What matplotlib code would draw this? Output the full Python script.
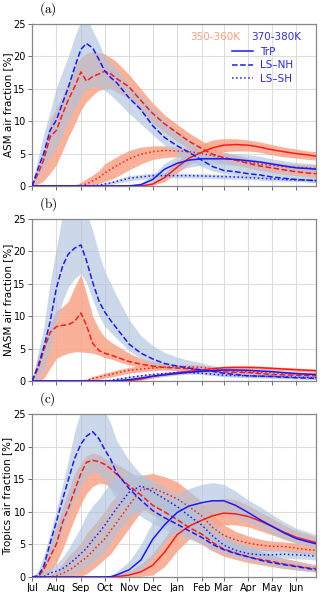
import matplotlib
matplotlib.use('Agg')
from matplotlib import pyplot as plt
from matplotlib.lines import Line2D

plt.rcParams['font.family'] = ['DejaVu Sans']
plt.rcParams['mathtext.fontset'] = 'cm'

# days since 1 July
days = [0, 8, 15, 23, 31, 39, 46, 54, 62, 69, 77, 85, 92, 100, 107, 123,
        138, 153, 168, 184, 199, 215, 229, 243, 258, 274, 289, 304, 319, 335, 350, 360]
month_days = [0, 31, 62, 92, 123, 153, 184, 215, 243, 274, 304, 335]
month_labels = ['Jul', 'Aug', 'Sep', 'Oct', 'Nov', 'Dec', 'Jan', 'Feb', 'Mar', 'Apr', 'May', 'Jun']

# ---- (a) ASM ----
a_red_trp = [0,0,0,0,0, 0,0,0,0,0, 0,0,0,0,0, 0,0, 0.3,1.3,2.9, 4.3,5.2,5.9,6.3,6.4, 6.3,6.0,5.6,5.3,5.0, 4.8,4.6]
a_red_trp_lo = [0,0,0,0,0, 0,0,0,0,0, 0,0,0,0,0, 0,0, 0.1,0.7,2.0, 3.3,4.2,4.9,5.3,5.4, 5.4,5.2,4.8,4.5,4.3, 4.1,4.0]
a_red_trp_hi = [0,0,0,0,0, 0,0,0,0,0, 0,0,0,0,0, 0,0, 0.6,2.0,3.8, 5.4,6.5,7.1,7.3,7.3, 7.1,6.8,6.4,6.0,5.7, 5.4,5.3]
a_blue_trp = [0,0,0,0,0, 0,0,0,0,0, 0,0,0,0,0, 0.02,0.2, 1.0,2.6,3.5, 4.0,4.2,4.2,4.2,4.1, 3.9,3.7,3.4,3.1,2.8, 2.7,2.6]
a_blue_trp_lo = [0,0,0,0,0, 0,0,0,0,0, 0,0,0,0,0, 0,0.05, 0.5,1.8,2.5, 2.9,3.2,3.4,3.3,3.2, 3.0,2.8,2.6,2.4,2.1, 2.0,1.9]
a_blue_trp_hi = [0,0,0,0,0, 0,0,0,0,0, 0,0,0,0,0, 0.1,0.5, 1.6,3.5,4.6, 5.2,5.3,5.2,5.1,5.0, 4.8,4.6,4.2,3.9,3.6, 3.5,3.4]
a_red_nh = [0,2.0,4.1,7.6,8.6, 11.2,13.3,15.3,17.6,16.2, 16.9,17.3,17.7,17.3,16.6, 15.3,13.2,11.2,9.6,8.2, 6.9,5.8,4.9,4.4,4.0, 3.5,3.1,2.8,2.5,2.2, 2.0,1.9]
a_red_nh_lo = [0,0.3,0.8,2.0,3.3, 5.5,7.5,9.5,11.7,13.0, 14.0,14.8,15.0,15.0,14.5, 13.5,11.6,9.7,8.3,6.9, 5.7,4.7,3.9,3.5,3.2, 2.8,2.4,2.1,1.8,1.6, 1.4,1.3]
a_red_nh_hi = [0,3.5,5.5,10.2,12.0, 14.0,16.0,18.5,19.8,20.5, 20.7,20.6,20.4,19.8,19.2, 17.2,15.0,12.8,11.0,9.5, 8.2,7.0,6.0,5.2,4.8, 4.3,3.9,3.5,3.2,2.9, 2.7,2.6]
a_blue_nh = [0,2.8,5.1,8.6,10.2, 12.9,15.2,18.3,21.1,22.0, 21.3,19.5,17.8,16.7,16.0, 13.6,11.8,9.3,7.5,6.2, 5.2,4.0,3.0,2.4,2.2, 1.9,1.7,1.4,1.2,1.0, 0.9,0.8]
a_blue_nh_lo = [0,1.2,2.9,4.5,6.0, 8.0,10.0,12.0,13.8,15.0, 15.3,15.3,14.8,14.0,13.2, 11.2,9.6,7.9,6.3,5.0, 4.0,3.0,2.3,1.9,1.7, 1.5,1.3,1.1,0.9,0.8, 0.6,0.5]
a_blue_nh_hi = [0,4.5,8.1,11.5,15.2, 17.8,20.0,23.0,25.5,26.0, 24.0,22.0,20.0,19.0,18.0, 15.6,14.0,12.0,10.2,8.4, 7.0,5.6,4.6,3.8,3.4, 3.0,2.7,2.4,2.1,1.8, 1.6,1.4]
a_red_sh = [0,0,0,0,0, 0,0,0,0.1,0.3, 0.8,1.3,2.0,2.6,3.1, 4.2,4.9,5.3,5.5,5.4, 5.3,5.0,4.7,4.3,4.0, 3.7,3.4,3.2,3.0,2.9, 2.8,2.7]
a_red_sh_lo = [0,0,0,0,0, 0,0,0,0,0, 0.2,0.4,0.7,1.0,1.4, 2.5,3.4,4.1,4.4,4.5, 4.4,4.2,4.0,3.7,3.4, 3.1,2.9,2.7,2.5,2.4, 2.3,2.2]
a_red_sh_hi = [0,0,0,0,0, 0,0,0.1,0.6,1.1, 1.7,2.4,3.4,4.0,4.5, 5.5,6.0,6.2,6.2,6.0, 5.8,5.5,5.2,4.8,4.5, 4.2,3.9,3.7,3.5,3.4, 3.3,3.2]
a_blue_sh = [0,0,0,0,0, 0,0,0,0,0, 0.05,0.15,0.3,0.5,0.7, 1.2,1.4,1.6,1.6,1.6, 1.6,1.55,1.5,1.45,1.4, 1.3,1.2,1.1,1.0,0.95, 0.9,0.85]
a_blue_sh_lo = [0,0,0,0,0, 0,0,0,0,0, 0,0.05,0.1,0.25,0.4, 0.8,1.0,1.2,1.25,1.25, 1.25,1.2,1.15,1.1,1.05, 1.0,0.9,0.8,0.75,0.7, 0.65,0.6]
a_blue_sh_hi = [0,0,0,0,0, 0,0,0,0,0.05, 0.15,0.3,0.5,0.75,1.0, 1.6,1.8,2.0,2.0,2.0, 1.95,1.9,1.85,1.8,1.7, 1.6,1.5,1.4,1.3,1.25, 1.2,1.1]

# ---- (b) NASM ----
b_red_trp = [0,0,0,0,0, 0,0,0,0,0, 0,0,0,0,0, 0.05,0.3,0.7,1.0,1.3, 1.5,1.7,1.9,2.05,2.1, 2.1,2.05,1.95,1.85,1.75, 1.65,1.6]
b_red_trp_lo = [0,0,0,0,0, 0,0,0,0,0, 0,0,0,0,0, 0,0.1,0.45,0.75,1.05, 1.25,1.45,1.65,1.8,1.85, 1.85,1.8,1.7,1.6,1.5, 1.4,1.35]
b_red_trp_hi = [0,0,0,0,0, 0,0,0,0,0, 0,0,0,0,0, 0.1,0.5,0.95,1.25,1.55, 1.75,1.95,2.15,2.3,2.35, 2.35,2.3,2.2,2.1,2.0, 1.9,1.85]
b_blue_trp = [0,0,0,0,0, 0,0,0,0,0, 0,0,0,0,0.05, 0.2,0.45,0.75,0.95,1.15, 1.35,1.5,1.6,1.7,1.7, 1.65,1.55,1.45,1.3,1.15, 1.05,1.0]
b_blue_trp_lo = [0,0,0,0,0, 0,0,0,0,0, 0,0,0,0,0, 0.05,0.25,0.5,0.7,0.9, 1.1,1.25,1.35,1.45,1.45, 1.4,1.3,1.2,1.05,0.9, 0.8,0.75]
b_blue_trp_hi = [0,0,0,0,0, 0,0,0,0,0, 0,0,0,0,0.1, 0.35,0.65,1.0,1.2,1.4, 1.6,1.75,1.85,1.95,1.95, 1.9,1.8,1.7,1.55,1.4, 1.3,1.25]
b_red_nh = [0,2.0,4.8,7.5,8.4, 8.6,8.7,9.2,10.5,8.6, 5.8,4.7,4.3,4.0,3.7, 3.0,2.6,2.3,2.1,2.0, 1.9,1.7,1.55,1.4,1.35, 1.3,1.15,1.0,0.95,0.9, 0.85,0.8]
b_red_nh_lo = [0,0,0.4,2.0,3.5, 4.0,4.3,4.5,4.5,4.4, 4.3,4.0,3.6,3.4,3.1, 2.5,2.1,1.9,1.7,1.6, 1.5,1.3,1.2,1.1,1.0, 0.95,0.85,0.75,0.7,0.65, 0.6,0.55]
b_red_nh_hi = [0,4.0,6.0,9.0,10.8, 11.5,12.3,14.5,16.5,13.5, 10.0,8.0,6.8,6.0,5.5, 4.3,3.5,3.0,2.7,2.5, 2.4,2.2,2.0,1.9,1.8, 1.7,1.6,1.4,1.3,1.25, 1.2,1.15]
b_blue_nh = [0,2.4,5.2,9.2,14.4, 17.8,19.6,20.5,21.0,18.6, 15.2,12.3,10.7,9.3,8.2, 5.7,4.3,3.4,2.7,2.3, 2.0,1.7,1.5,1.2,1.0, 0.8,0.75,0.7,0.6,0.5, 0.45,0.4]
b_blue_nh_lo = [0,0.5,1.6,5.0,9.2, 12.4,14.5,15.8,16.6,15.2, 12.5,10.0,8.5,7.5,6.6, 4.7,3.5,2.6,2.0,1.6, 1.4,1.1,0.9,0.7,0.6, 0.5,0.45,0.4,0.35,0.3, 0.25,0.2]
b_blue_nh_hi = [0,4.5,8.3,15.3,20.5, 26,26,26,26,26, 23.2,19.6,17.0,15.0,13.2, 9.5,7.0,5.5,4.4,3.7, 3.2,2.8,2.4,2.1,1.8, 1.6,1.4,1.3,1.2,1.1, 1.0,0.9]
b_red_sh = [0,0,0,0,0, 0,0,0,0,0.1, 0.4,0.6,0.85,1.0,1.25, 1.65,1.85,2.0,2.15,2.2, 2.2,2.1,1.9,1.7,1.55, 1.4,1.35,1.3,1.2,1.1, 1.05,1.0]
b_red_sh_lo = [0,0,0,0,0, 0,0,0,0,0, 0.1,0.25,0.45,0.6,0.8, 1.2,1.4,1.6,1.75,1.8, 1.8,1.75,1.6,1.4,1.25, 1.1,1.05,1.0,0.9,0.8, 0.75,0.7]
b_red_sh_hi = [0,0,0,0,0, 0,0,0,0,0.3, 0.7,0.95,1.25,1.45,1.7, 2.1,2.4,2.5,2.55,2.55, 2.55,2.45,2.25,2.0,1.85, 1.7,1.65,1.6,1.5,1.4, 1.35,1.3]
b_blue_sh = [0,0,0,0,0, 0,0,0,0,0, 0,0,0.02,0.1,0.25, 0.55,0.8,1.0,1.15,1.3, 1.3,1.2,1.05,0.9,0.85, 0.8,0.75,0.7,0.65,0.6, 0.55,0.5]
b_blue_sh_lo = [0,0,0,0,0, 0,0,0,0,0, 0,0,0,0,0.1, 0.35,0.6,0.8,0.95,1.1, 1.1,1.0,0.85,0.7,0.65, 0.6,0.55,0.5,0.45,0.4, 0.35,0.3]
b_blue_sh_hi = [0,0,0,0,0, 0,0,0,0,0, 0,0,0.1,0.25,0.45, 0.75,1.0,1.2,1.35,1.5, 1.5,1.4,1.25,1.1,1.05, 1.0,0.95,0.9,0.85,0.8, 0.75,0.7]

# ---- (c) Tropics ----
c_red_trp = [0,0,0,0,0, 0,0,0,0,0, 0,0,0,0,0.05, 0.3,0.8,1.8,3.8,6.5, 7.8,8.7,9.4,9.8,9.7, 9.3,8.6,7.8,6.9,6.1, 5.6,5.3]
c_red_trp_lo = [0,0,0,0,0, 0,0,0,0,0, 0,0,0,0,0, 0,0.1,0.3,1.6,4.0, 5.8,7.0,7.6,8.0,8.0, 7.7,7.1,6.5,5.8,5.2, 4.8,4.6]
c_red_trp_hi = [0,0,0,0,0, 0,0,0,0,0, 0,0,0,0.05,0.3, 0.9,2.0,3.6,6.0,8.8, 10.2,11.0,11.8,12.1,11.9, 11.0,10.0,9.0,8.0,7.1, 6.6,6.2]
c_blue_trp = [0,0,0,0,0, 0,0,0,0,0, 0,0,0,0.05,0.3, 1.1,2.6,5.8,8.0,9.9, 10.9,11.4,11.7,11.7,11.0, 9.9,8.8,7.8,6.8,5.9, 5.4,5.1]
c_blue_trp_lo = [0,0,0,0,0, 0,0,0,0,0, 0,0,0,0,0, 0.2,0.8,3.0,5.2,7.3, 8.4,9.2,9.7,9.8,9.2, 8.4,7.6,6.8,5.9,5.2, 4.7,4.5]
c_blue_trp_hi = [0,0,0,0,0, 0,0,0,0,0, 0,0,0.1,0.3,0.8, 2.4,5.0,8.5,11.0,12.8, 13.6,14.2,14.5,14.2,13.2, 11.8,10.8,9.6,8.5,7.5, 6.9,6.5]
c_red_nh = [0,0,1.2,3.1,5.1, 8.5,10.5,13.3,15.9,17.6, 17.9,17.7,17.3,16.6,15.8, 14.0,12.6,11.0,10.0,8.8, 7.6,6.6,5.3,4.3,3.7, 3.1,2.7,2.4,2.0,1.7, 1.4,1.3]
c_red_nh_lo = [0,0,0,0.6,2.2, 4.3,6.5,9.0,11.2,12.8, 13.9,14.4,14.3,13.7,13.0, 11.8,10.7,9.5,8.4,7.2, 6.1,5.0,4.0,3.2,2.7, 2.2,1.9,1.6,1.3,1.1, 0.9,0.8]
c_red_nh_hi = [0,0.3,2.2,5.2,7.8, 10.8,13.2,15.9,17.5,18.6, 19.0,18.8,18.2,17.8,17.4, 16.2,14.8,13.3,12.2,11.0, 9.6,8.4,7.2,6.2,5.4, 4.6,4.0,3.4,2.9,2.5, 2.1,1.9]
c_blue_nh = [0,0.2,1.7,5.2,8.5, 12.0,14.9,18.2,20.4,21.6, 22.3,21.2,19.6,18.0,16.0, 13.6,11.8,10.2,9.1,8.1, 7.1,6.1,5.0,4.2,3.6, 3.1,2.6,2.2,1.9,1.6, 1.3,1.1]
c_blue_nh_lo = [0,0,0.3,3.1,5.2, 7.3,9.5,11.8,13.8,15.4, 16.2,15.8,15.0,13.3,11.8, 10.6,9.3,8.2,7.3,6.5, 5.8,5.1,4.3,3.6,3.1, 2.6,2.2,1.8,1.4,1.1, 0.9,0.7]
c_blue_nh_hi = [0,1.0,3.3,6.8,10.3, 14.3,17.9,22.3,25.5,26, 26,26,25.5,23.5,21.0, 17.9,15.8,13.8,12.0,10.3, 9.0,7.4,6.5,5.7,5.0, 4.4,3.8,3.1,2.7,2.3, 2.0,1.8]
c_red_sh = [0,0,0,0.05,0.2, 0.6,1.0,1.6,2.4,3.0, 4.0,5.0,5.8,7.2,8.3, 11.0,13.4,13.6,12.9,12.0, 10.8,9.4,7.6,6.4,5.7, 5.2,4.9,4.7,4.7,4.4, 4.2,4.1]
c_red_sh_lo = [0,0,0,0,0, 0,0,0,0.1,0.5, 1.2,2.0,2.8,3.6,4.8, 7.5,10.0,11.0,10.8,10.2, 9.0,7.6,6.0,5.0,4.5, 4.3,4.1,4.0,4.0,3.7, 3.5,3.4]
c_red_sh_hi = [0,0,0,0.3,1.0, 2.1,3.2,4.2,5.2,6.7, 7.8,9.0,10.0,11.5,12.4, 14.4,15.6,15.9,15.4,14.6, 13.2,11.6,9.6,8.0,7.0, 6.3,5.8,5.5,5.4,5.2, 5.0,4.8]
c_blue_sh = [0,0,0.05,0.6,0.9, 1.3,1.9,2.7,3.6,4.4, 5.7,6.8,7.9,9.3,10.5, 13.0,14.0,13.1,12.0,10.8, 9.4,8.0,6.3,4.9,4.1, 3.6,3.4,3.4,3.5,3.4, 3.3,3.2]
c_blue_sh_lo = [0,0,0,0,0, 0.1,0.3,0.6,1.0,1.5, 2.3,3.1,3.8,5.2,6.7, 9.0,10.6,10.9,10.2,9.2, 7.8,6.5,5.1,4.0,3.3, 3.0,2.8,2.8,2.9,2.8, 2.7,2.6]
c_blue_sh_hi = [0,0,0.6,1.2,2.0, 3.1,4.3,6.0,7.7,9.5, 11.0,12.0,13.3,14.5,15.2, 15.8,15.7,14.8,13.8,12.6, 11.3,10.0,8.4,6.6,5.5, 4.8,4.4,4.2,4.2,4.1, 4.0,3.9]

RED = '#ff1a1a'
BLUE = '#1a1aff'
RED_BAND = '#f9a587'
BLUE_BAND = '#b0c4de'

panels = [
    ('(a)', 'ASM air fraction [%]',
     [(a_red_trp, a_red_trp_lo, a_red_trp_hi, '-'), (a_red_nh, a_red_nh_lo, a_red_nh_hi, '--'),
      (a_red_sh, a_red_sh_lo, a_red_sh_hi, ':')],
     [(a_blue_trp, a_blue_trp_lo, a_blue_trp_hi, '-'), (a_blue_nh, a_blue_nh_lo, a_blue_nh_hi, '--'),
      (a_blue_sh, a_blue_sh_lo, a_blue_sh_hi, ':')]),
    ('(b)', 'NASM air fraction [%]',
     [(b_red_trp, b_red_trp_lo, b_red_trp_hi, '-'), (b_red_nh, b_red_nh_lo, b_red_nh_hi, '--'),
      (b_red_sh, b_red_sh_lo, b_red_sh_hi, ':')],
     [(b_blue_trp, b_blue_trp_lo, b_blue_trp_hi, '-'), (b_blue_nh, b_blue_nh_lo, b_blue_nh_hi, '--'),
      (b_blue_sh, b_blue_sh_lo, b_blue_sh_hi, ':')]),
    ('(c)', 'Tropics air fraction [%]',
     [(c_red_trp, c_red_trp_lo, c_red_trp_hi, '-'), (c_red_nh, c_red_nh_lo, c_red_nh_hi, '--'),
      (c_red_sh, c_red_sh_lo, c_red_sh_hi, ':')],
     [(c_blue_trp, c_blue_trp_lo, c_blue_trp_hi, '-'), (c_blue_nh, c_blue_nh_lo, c_blue_nh_hi, '--'),
      (c_blue_sh, c_blue_sh_lo, c_blue_sh_hi, ':')]),
]

fig = plt.figure(figsize=(3.2, 5.92), dpi=100)
boxes = [(0.100, 0.6858, 0.8875, 0.2736),
         (0.100, 0.3564, 0.8875, 0.2736),
         (0.100, 0.0253, 0.8875, 0.2752)]

for i, (label, ylabel, reds, blues) in enumerate(panels):
    ax = fig.add_axes(boxes[i])
    for mean, lo, hi, ls in reds:
        ax.fill_between(days, lo, hi, color=RED_BAND, alpha=0.85, lw=0, zorder=1)
    for mean, lo, hi, ls in blues:
        ax.fill_between(days, lo, hi, color=BLUE_BAND, alpha=0.65, lw=0, zorder=2)
    for mean, lo, hi, ls in reds:
        ax.plot(days, mean, color=RED, ls=ls, lw=1.1, zorder=3)
    for mean, lo, hi, ls in blues:
        ax.plot(days, mean, color=BLUE, ls=ls, lw=1.1, zorder=4)

    ax.set_xlim(0, 360)
    ax.set_ylim(0, 25)
    ax.set_yticks([0, 5, 10, 15, 20, 25])
    ax.set_xticks(month_days)
    if i == 2:
        ax.set_xticklabels(month_labels)
    else:
        ax.set_xticklabels([])
    ax.tick_params(labelsize=7, length=3, width=0.6, color='#555555', pad=1.5)
    ax.grid(color='#dddddd', lw=0.8)
    ax.set_axisbelow(True)
    for s in ax.spines.values():
        s.set_color('#888888')
        s.set_linewidth(0.9)
    ax.set_ylabel(ylabel, fontsize=7.5, labelpad=2)
    ax.yaxis.set_label_coords(-0.068, 0.5)
    ax.text(0.025, 1.035, r'$\mathrm{' + label + '}$', transform=ax.transAxes,
            fontsize=9.5, va='bottom', ha='left')

    if i == 0:
        ax.text(0.645, 0.92, '350-360K', color='#f4a07c', fontsize=7.5,
                transform=ax.transAxes, ha='center', va='center')
        ax.text(0.86, 0.92, '370-380K', color='#3030e0', fontsize=7.5,
                transform=ax.transAxes, ha='center', va='center')
        handles = [Line2D([], [], color=BLUE, ls='-', lw=1.1),
                   Line2D([], [], color=BLUE, ls='--', lw=1.1),
                   Line2D([], [], color=BLUE, ls=':', lw=1.1)]
        ax.legend(handles, ['TrP', 'LS\u2013NH', 'LS\u2013SH'], loc='upper left',
                  bbox_to_anchor=(0.705, 0.86), frameon=False, fontsize=7.5,
                  handlelength=2.0, handletextpad=0.7, labelspacing=0.35,
                  borderpad=0, borderaxespad=0, labelcolor='#2a2ae0')

fig.savefig('out.png', dpi=100)
